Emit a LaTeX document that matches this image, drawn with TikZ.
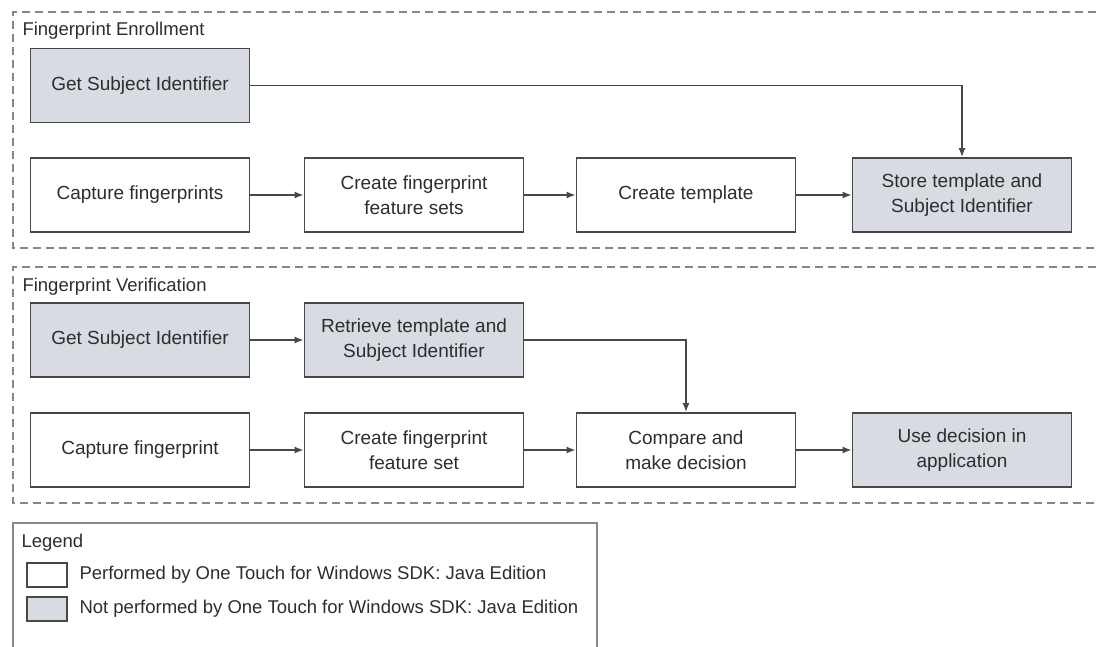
\documentclass[tikz,border=0pt]{standalone}
\usepackage{fontspec}
\setmainfont{Liberation Sans}
\usetikzlibrary{arrows.meta}
\definecolor{boxgray}{RGB}{216,219,226}
\definecolor{linegray}{RGB}{72,72,72}
\definecolor{dashgray}{RGB}{135,135,135}
\definecolor{textgray}{RGB}{45,45,45}

\begin{document}
\begin{tikzpicture}[x=1pt,y=-1pt,
    performed/.style ={rectangle, draw=linegray, line width=1.8pt, minimum width=219pt, minimum height=74pt,
        inner sep=2pt, align=center, text=textgray, font=\fontsize{19}{25}\selectfont},
    notperformed/.style ={performed, fill=boxgray},
    flow/.style ={draw=linegray, line width=1.5pt, -{Latex[length=9pt,width=7pt]}},
    group/.style ={draw=dashgray, line width=1.5pt, dash pattern=on 8pt off 5pt},
    caption/.style ={anchor=west, text=textgray, font=\fontsize{18.5}{22}\selectfont},
    swatch/.style ={rectangle, draw=linegray, line width=1.2pt, minimum width=40pt, minimum height=24pt}]
   \useasboundingbox (0,0) rectangle (1096,646);

   \draw[group] (1096,12) -- (13,12) -- (13,248) -- (1096,248);
   \draw[group] (1096,267) -- (13,267) -- (13,503) -- (1096,503);

   \node[caption] (E)  at (19,31)  {Fingerprint Enrollment};
   \node[notperformed] (E1) at (140,85.5)  {Get Subject Identifier};
   \node[performed] (E2) at (140,195)  {Capture fingerprints};
   \node[performed] (E3) at (414,195)  {Create fingerprint\\feature sets};
   \node[performed] (E4) at (686,195)  {Create template};
   \node[notperformed] (E5) at (962,195)  {Store template and\\Subject Identifier};

   \node[caption] (V)  at (19,287)  {Fingerprint Verification};
   \node[notperformed] (V1) at (140,340)  {Get Subject Identifier};
   \node[notperformed] (V2) at (414,340)  {Retrieve template and\\Subject Identifier};
   \node[performed] (V3) at (140,450)  {Capture fingerprint};
   \node[performed] (V4) at (414,450)  {Create fingerprint\\feature set};
   \node[performed] (V5) at (686,450)  {Compare and\\make decision};
   \node[notperformed] (V6) at (962,450)  {Use decision in\\application};

   \draw[flow] (E1) -| (E5);
   \draw[flow] (E2) to  (E3);
   \draw[flow] (E3) to  (E4);
   \draw[flow] (E4) to  (E5);

   \draw[flow] (V1) to  (V2);
   \draw[flow] (V2) -| (V5);
   \draw[flow] (V3) to  (V4);
   \draw[flow] (V4) to  (V5);
   \draw[flow] (V5) to  (V6);

   \draw[draw=dashgray, line width=1.5pt] (13,650) -- (13,523) -- (597,523) -- (597,650);
   \node[caption] (L)  at (18,543)  {Legend};
   \node[swatch] (L1) at (47,575)  {};
   \node[swatch, fill=boxgray] (L2) at (47,609)  {};
   \node[caption] (L1t) at (76,575)  {Performed by One Touch for Windows SDK: Java Edition};
   \node[caption] (L2t) at (76,609)  {Not performed by One Touch for Windows SDK: Java Edition};
 \end{tikzpicture}
\end{document}
